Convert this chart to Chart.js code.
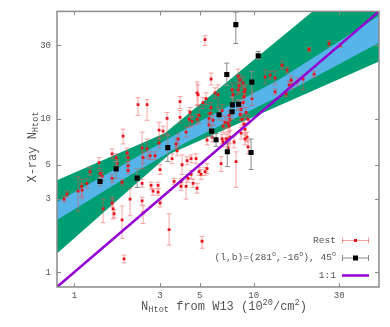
<!DOCTYPE html>
<html>
<head>
<meta charset="utf-8">
<script src="https://cdn.jsdelivr.net/npm/chart.js@4.4.1/dist/chart.umd.min.js"></script>
<style>
  html, body { margin: 0; padding: 0; background: #fff; }
  #wrap { width: 390px; height: 327px; }
</style>
</head>
<body>
<div id="wrap"><canvas id="nhChart" width="390" height="327"></canvas></div>
<script>
// Axis ticks (both axes logarithmic)
const xTicks = [1, 3, 5, 10, 30];
const yTicks = [1, 3, 5, 10, 30];

// "Rest" sample: N_Htot from W13 vs X-ray N_Htot, with error bar ends
const restX = [0.876,0.910,1.049,1.097,1.104,1.177,1.223,1.374,1.392,1.427,
  1.446,1.623,1.623,1.623,1.644,1.665,1.708,1.730,1.869,1.845,
  1.845,1.893,1.967,1.993,1.993,1.993,2.045,2.266,2.544,2.386,
  2.544,2.416,2.386,2.386,2.416,2.644,2.819,2.678,2.748,2.930,
  2.968,3.124,2.968,3.006,2.930,3.289,3.375,3.598,3.788,3.692,
  3.740,3.886,3.886,3.988,4.198,4.198,4.253,4.477,4.772,4.363,
  4.535,4.419,4.592,4.834,4.960,4.834,4.960,5.155,5.497,5.497,
  5.357,4.897,5.222,5.427,5.787,5.089,5.357,4.308,4.477,3.507,
  3.006,3.937,3.937,4.834,5.787,5.713,6.091,6.330,5.640,5.937,
  5.640,5.861,6.579,6.750,7.199,6.926,6.750,7.199,7.387,6.664,
  7.292,7.387,7.199,7.292,8.185,8.399,8.291,8.730,8.954,8.843,
  7.578,7.677,8.185,8.843,8.730,8.185,8.507,8.399,8.618,9.071,
  9.307,8.843,8.954,8.507,8.954,6.664,7.016,7.979,9.307,7.776,
  9.797,9.188,11.58,12.35,13.17,16.17,16.38,15.76,17.47,18.86,
  13.17,15.16,14.40,15.36,21.72,20.37,26.34,30.34];
const restY = [2.99,3.22,3.37,3.62,3.42,3.79,4.52,5.17,4.39,4.20,
  2.58,5.90,4.08,2.82,2.58,2.40,5.57,5.09,7.70,3.85,
  2.19,1.22,5.99,5.57,4.94,4.59,2.99,12.35,12.35,6.45,
  6.35,5.57,3.79,2.91,2.43,5.73,5.73,3.68,3.37,3.68,
  8.41,8.29,6.94,2.82,3.32,10.05,1.89,3.90,7.37,6.84,
  6.17,12.91,10.20,5.01,8.17,3.62,5.33,5.49,5.49,9.90,
  9.61,10.98,3.79,3.52,4.52,14.74,10.50,1.59,4.73,7.26,
  32.73,14.32,12.72,13.50,18.14,4.33,4.52,4.08,4.33,5.49,
  4.66,3.90,3.62,9.90,11.81,10.82,14.74,14.32,10.05,9.76,
  9.07,7.59,5.09,7.05,6.45,9.47,8.93,7.37,7.59,11.31,
  10.50,9.90,9.34,8.93,18.96,17.87,16.36,17.10,15.42,14.96,
  15.42,14.32,15.42,13.90,12.72,12.17,11.48,10.66,9.90,10.98,
  9.90,9.20,8.54,8.05,7.37,7.37,7.37,5.25,6.55,7.05,
  13.50,7.59,18.68,19.24,18.41,17.87,16.60,16.60,17.35,18.14,
  14.96,14.53,22.30,20.71,19.53,28.24,30.86,29.95];
const restLo = [2.87,3.08,2.50,3.12,3.03,3.52,4.27,4.73,4.14,3.96,
  2.10,5.49,3.85,2.66,2.22,2.26,5.25,4.80,6.84,3.68,
  1.66,1.15,5.57,5.25,4.66,4.39,2.33,10.50,9.76,4.73,
  5.49,5.09,3.57,2.74,2.07,5.41,5.41,3.47,3.17,3.52,
  7.37,7.70,6.45,2.66,3.17,7.93,1.50,3.74,6.84,6.35,
  5.73,11.64,9.34,4.33,7.59,2.99,5.01,5.17,5.09,8.80,
  8.93,10.20,3.57,3.27,4.27,12.17,9.34,1.43,4.39,6.74,
  29.95,12.35,11.64,12.35,16.60,4.02,4.27,3.85,4.08,5.09,
  4.33,3.74,3.42,9.20,10.98,10.05,13.50,11.81,9.34,9.07,
  8.41,7.05,4.52,6.55,5.99,8.67,8.17,6.64,6.84,10.35,
  9.76,9.20,8.67,8.29,17.10,16.36,14.74,15.65,14.32,13.90,
  13.90,13.11,14.32,12.91,11.81,11.31,10.50,9.76,9.07,10.20,
  9.20,8.41,7.81,7.37,6.74,6.84,6.84,3.57,5.90,6.45,
  12.17,7.05,16.85,18.14,16.60,16.60,15.65,15.65,16.36,15.42,
  14.32,13.90,21.02,19.82,18.68,27.42,29.50,29.09];
const restHi = [3.12,3.37,4.20,4.02,3.79,4.08,4.80,5.57,4.59,4.46,
  2.99,6.35,4.33,3.08,2.99,2.55,5.90,5.41,8.54,4.02,
  2.70,1.29,6.45,5.90,5.25,4.87,3.52,13.70,13.30,8.17,
  7.37,6.08,4.02,3.08,2.70,6.08,6.08,3.85,3.52,3.85,
  9.47,8.93,7.48,2.95,3.47,10.98,2.40,4.08,7.93,7.37,
  6.55,13.90,11.31,5.81,8.80,4.20,5.65,5.81,5.90,11.31,
  10.35,11.81,4.02,3.79,4.80,17.35,12.17,1.71,5.09,7.70,
  34.73,16.60,13.70,14.74,19.82,4.66,4.80,4.33,4.59,5.90,
  5.01,4.08,3.85,10.66,12.72,11.64,15.88,16.60,10.82,10.50,
  9.76,8.17,5.65,7.48,6.94,10.35,9.76,8.17,8.41,12.35,
  11.31,10.66,10.05,9.61,21.02,19.24,18.14,18.68,16.60,16.12,
  17.10,15.65,16.60,14.96,13.70,13.11,12.54,11.64,10.82,11.81,
  10.66,10.05,9.34,8.80,8.05,7.93,7.93,6.08,7.26,7.70,
  14.96,8.17,20.71,20.41,20.41,18.96,17.62,17.62,18.41,19.24,
  15.65,15.19,23.66,21.65,20.41,29.09,32.25,30.86];

// (l,b)=(281,-16), 45 deg field
const fieldX = [7.95,10.6,7.08,9.76,8.24,7.61,7.58,6.41,5.83,6.17,7.13,9.67,3.32,1.71,1.39,2.24];
const fieldY = [41.0,25.7,19.4,17.3,12.4,12.3,11.1,10.6,8.29,7.29,6.08,6.02,6.48,4.71,3.90,4.10];
const fieldLo = [30.9,24.4,16.4,13.7,11.5,11.0,9.9,9.8,7.6,6.6,4.87,4.66,5.25,4.08,3.65,3.56];
const fieldHi = [49.5,27.4,23.0,20.3,13.3,13.8,12.4,11.5,9.0,8.0,7.05,7.37,7.81,5.25,4.15,4.72];

// fit bands: upper and lower edges
const greenUpX = [0.8, 3.205, 50];
const greenUpY = [3.962, 8.05, 113.7];
const greenLoX = [0.8, 3.418, 50];
const greenLoY = [1.322, 5.90, 23.56];
const blueUpX = [0.8, 1.798, 4.145, 14.04, 50];
const blueUpY = [2.862, 4.872, 8.54, 18.14, 46.9];
const blueLoX = [0.8, 1.798, 4.145, 14.04, 50];
const blueLoY = [2.184, 3.904, 6.94, 14.11, 31.18];

// 1:1 line
const oneX = [0.8, 50];
const oneY = [0.8, 50];

const FAM = '"Liberation Mono", "DejaVu Sans Mono", monospace';
const TXT = '#555';

function bandPoly(ux, uy, lx, ly) {
  const top = ux.map((x, i) => ({ x: x, y: uy[i] }));
  const bot = lx.map((x, i) => ({ x: x, y: ly[i] })).reverse();
  return top.concat(bot);
}

// error bars are drawn under each point set
const errorBarPlugin = {
  id: 'errorBars',
  beforeDatasetDraw(chart, args) {
    const ds = chart.data.datasets[args.index];
    if (!ds.errLo) return;
    const ctx = chart.ctx;
    const ys = chart.scales.y;
    const a = chart.chartArea;
    ctx.save();
    ctx.beginPath();
    ctx.rect(a.left, a.top, a.right - a.left, a.bottom - a.top);
    ctx.clip();
    ctx.strokeStyle = ds.errColor;
    ctx.lineWidth = 1;
    const cap = ds.errCap;
    args.meta.data.forEach((pt, i) => {
      const x = pt.x;
      const y1 = ys.getPixelForValue(ds.errLo[i]);
      const y2 = ys.getPixelForValue(ds.errHi[i]);
      ctx.beginPath();
      ctx.moveTo(x, y1); ctx.lineTo(x, y2);
      ctx.moveTo(x - cap, y1); ctx.lineTo(x + cap, y1);
      ctx.moveTo(x - cap, y2); ctx.lineTo(x + cap, y2);
      ctx.stroke();
    });
    ctx.restore();
  }
};

// text with sub/superscripts: segs = [[text, scale, dy], ...]
function richWidth(ctx, segs, size) {
  let w = 0;
  segs.forEach(s => {
    ctx.font = (size * s[1]) + 'px ' + FAM;
    w += ctx.measureText(s[0]).width;
  });
  return w;
}
function drawRich(ctx, segs, x, y, size) {
  segs.forEach(s => {
    ctx.font = (size * s[1]) + 'px ' + FAM;
    ctx.fillText(s[0], x, y + s[2]);
    x += ctx.measureText(s[0]).width;
  });
}

const framePlugin = {
  id: 'frame',
  afterDraw(chart) {
    const ctx = chart.ctx;
    const a = chart.chartArea;
    const xs = chart.scales.x, ys = chart.scales.y;
    ctx.save();
    // border
    ctx.strokeStyle = '#8a8a8a';
    ctx.lineWidth = 1.5;
    ctx.strokeRect(a.left, a.top, a.right - a.left, a.bottom - a.top);
    // inward ticks on all sides
    ctx.lineWidth = 1;
    ctx.beginPath();
    xTicks.forEach(v => {
      const px = Math.round(xs.getPixelForValue(v)) + 0.5;
      ctx.moveTo(px, a.bottom); ctx.lineTo(px, a.bottom - 4);
      ctx.moveTo(px, a.top); ctx.lineTo(px, a.top + 4);
    });
    yTicks.forEach(v => {
      const py = Math.round(ys.getPixelForValue(v)) + 0.5;
      ctx.moveTo(a.left, py); ctx.lineTo(a.left + 4, py);
      ctx.moveTo(a.right, py); ctx.lineTo(a.right - 4, py);
    });
    ctx.stroke();

    ctx.fillStyle = TXT;
    ctx.textBaseline = 'middle';
    ctx.textAlign = 'left';

    // x title
    const xt = [['N', 1, 0], ['Htot', 0.72, 3], [' from W13 (10', 1, 0], ['20', 0.72, -4],
      ['/cm', 1, 0], ['2', 0.72, -4], [')', 1, 0]];
    const xw = richWidth(ctx, xt, 12);
    drawRich(ctx, xt, 224 - xw / 2, 307, 12);

    // y title (rotated)
    const yt = [['X-ray N', 1, 0], ['Htot', 0.72, 3]];
    const yw = richWidth(ctx, yt, 12);
    ctx.save();
    ctx.translate(33, 147);
    ctx.rotate(-Math.PI / 2);
    drawRich(ctx, yt, -yw / 2, 0, 12);
    ctx.restore();

    // legend
    const rows = [
      { y: 240, segs: [['Rest', 1, 0]] },
      { y: 257.5, segs: [['(l,b)=(281', 1, 0], ['o', 0.7, -3], [',-16', 1, 0], ['o', 0.7, -3], ['), 45', 1, 0], ['o', 0.7, -3]] },
      { y: 275.5, segs: [['1:1', 1, 0]] }
    ];
    rows.forEach(r => {
      ctx.fillStyle = TXT;
      const w = richWidth(ctx, r.segs, 9.6);
      drawRich(ctx, r.segs, 336 - w, r.y, 9.6);
    });
    const x0 = 342, x1 = 369, xm = (x0 + x1) / 2;
    // Rest sample
    ctx.strokeStyle = 'rgba(240,80,80,0.55)';
    ctx.lineWidth = 1;
    ctx.beginPath();
    ctx.moveTo(x0, 240.5); ctx.lineTo(x1, 240.5);
    ctx.moveTo(x0 + 0.5, 237.5); ctx.lineTo(x0 + 0.5, 243.5);
    ctx.moveTo(x1 - 0.5, 237.5); ctx.lineTo(x1 - 0.5, 243.5);
    ctx.stroke();
    ctx.fillStyle = '#e8141c';
    ctx.fillRect(xm - 1.5, 239, 3, 3);
    // field sample
    ctx.strokeStyle = '#8a8a8a';
    ctx.beginPath();
    ctx.moveTo(x0, 258); ctx.lineTo(x1, 258);
    ctx.moveTo(x0 + 0.5, 255); ctx.lineTo(x0 + 0.5, 261);
    ctx.moveTo(x1 - 0.5, 255); ctx.lineTo(x1 - 0.5, 261);
    ctx.stroke();
    ctx.fillStyle = '#000';
    ctx.fillRect(xm - 2.5, 255.5, 5, 5);
    // 1:1 sample
    ctx.strokeStyle = '#9400d3';
    ctx.lineWidth = 2.5;
    ctx.beginPath();
    ctx.moveTo(x0, 275.5); ctx.lineTo(x1, 275.5);
    ctx.stroke();
    ctx.restore();
  }
};

const ctx = document.getElementById('nhChart').getContext('2d');
new Chart(ctx, {
  type: 'scatter',
  data: {
    datasets: [
      {
        type: 'line',
        label: 'band2',
        data: bandPoly(greenUpX, greenUpY, greenLoX, greenLoY),
        fill: 'shape',
        backgroundColor: '#009e73',
        borderColor: 'rgba(0,0,0,0)',
        borderWidth: 0,
        pointRadius: 0,
        tension: 0,
        order: 5
      },
      {
        type: 'line',
        label: 'band1',
        data: bandPoly(blueUpX, blueUpY, blueLoX, blueLoY),
        fill: 'shape',
        backgroundColor: '#56b4e9',
        borderColor: 'rgba(0,0,0,0)',
        borderWidth: 0,
        pointRadius: 0,
        tension: 0,
        order: 4
      },
      {
        label: 'Rest',
        data: restX.map((x, i) => ({ x: x, y: restY[i] })),
        pointStyle: 'rect',
        pointRadius: 2,
        backgroundColor: '#e8141c',
        borderWidth: 0,
        errLo: restLo,
        errHi: restHi,
        errColor: 'rgba(240,80,80,0.5)',
        errCap: 2.5,
        order: 3
      },
      {
        label: '(l,b)=(281,-16), 45',
        data: fieldX.map((x, i) => ({ x: x, y: fieldY[i] })),
        pointStyle: 'rect',
        pointRadius: 3.6,
        backgroundColor: '#000',
        borderWidth: 0,
        errLo: fieldLo,
        errHi: fieldHi,
        errColor: '#8a8a8a',
        errCap: 2.5,
        order: 2
      },
      {
        type: 'line',
        label: '1:1',
        data: oneX.map((x, i) => ({ x: x, y: oneY[i] })),
        borderColor: '#9400d3',
        borderWidth: 2.5,
        pointRadius: 0,
        fill: false,
        order: 1
      }
    ]
  },
  options: {
    responsive: false,
    animation: false,
    events: [],
    layout: { padding: { top: 7, right: 11, left: 0, bottom: 0 } },
    plugins: {
      legend: { display: false },
      tooltip: { enabled: false },
      title: { display: false }
    },
    scales: {
      x: {
        type: 'logarithmic',
        min: 0.8,
        max: 50,
        afterBuildTicks: s => { s.ticks = xTicks.map(v => ({ value: v })); },
        afterFit: s => { s.height = 40; },
        grid: { display: false, drawTicks: false },
        border: { display: false },
        ticks: {
          autoSkip: false,
          maxRotation: 0,
          padding: 3,
          color: TXT,
          font: { family: FAM, size: 9 },
          callback: v => String(v)
        }
      },
      y: {
        type: 'logarithmic',
        min: 0.8,
        max: 50,
        afterBuildTicks: s => { s.ticks = yTicks.map(v => ({ value: v })); },
        afterFit: s => { s.width = 57; },
        grid: { display: false, drawTicks: false },
        border: { display: false },
        ticks: {
          autoSkip: false,
          padding: 6,
          color: TXT,
          font: { family: FAM, size: 9 },
          callback: v => String(v)
        }
      }
    }
  },
  plugins: [errorBarPlugin, framePlugin]
});
</script>
</body>
</html>
